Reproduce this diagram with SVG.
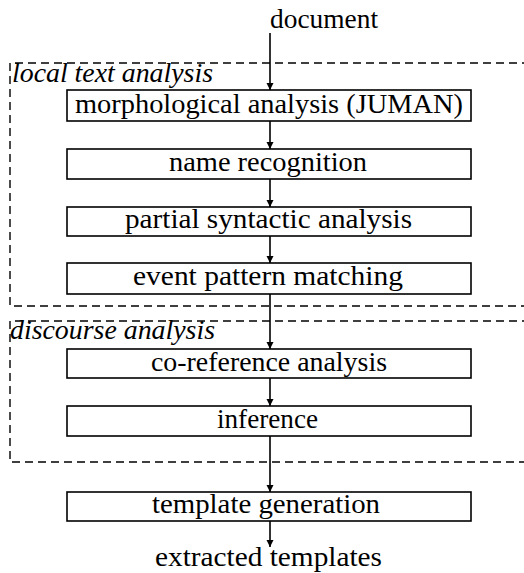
<svg xmlns="http://www.w3.org/2000/svg" width="524" height="573" viewBox="0 0 524 573">
  <defs>
    <marker id="arrow" viewBox="0 0 10 10" refX="10" refY="5" markerWidth="7" markerHeight="10" markerUnits="userSpaceOnUse" orient="auto">
      <path d="M0,0 L10,5 L0,10 z" fill="#000"/>
    </marker>
    <style>
      .box { fill: #fff; stroke: #000; stroke-width: 1.6; }
      .lbl { font-family: "Liberation Serif", "Times New Roman", serif; font-size: 28px; fill: #000; }
      .grp { font-family: "Liberation Serif", "Times New Roman", serif; font-size: 27px; font-style: italic; fill: #000; }
      .frame { fill: none; stroke: #000; stroke-width: 1.4; stroke-dasharray: 8 5; }
      .flow { stroke: #000; stroke-width: 1.6; fill: none; marker-end: url(#arrow); }
    </style>
  </defs>
  <rect width="524" height="573" fill="#fff"/>

  <!-- stage groupings -->
  <g id="local-text-analysis">
    <path class="frame" d="M530,63 H10 V306 H530"/>
    <text class="grp" x="12" y="82" textLength="201" lengthAdjust="spacingAndGlyphs">local text analysis</text>
  </g>
  <g id="discourse-analysis">
    <path class="frame" d="M530,321 H10 V462 H530"/>
    <text class="grp" x="10" y="339" textLength="205" lengthAdjust="spacingAndGlyphs">discourse analysis</text>
  </g>

  <!-- connectors -->
  <g id="connectors">
    <line class="flow" x1="270" y1="33" x2="270" y2="90"/>
    <line class="flow" x1="270" y1="121" x2="270" y2="149"/>
    <line class="flow" x1="270" y1="179" x2="270" y2="207"/>
    <line class="flow" x1="270" y1="236" x2="270" y2="263"/>
    <line class="flow" x1="270" y1="294" x2="270" y2="349"/>
    <line class="flow" x1="270" y1="378" x2="270" y2="406"/>
    <line class="flow" x1="270" y1="436" x2="270" y2="492"/>
    <line class="flow" x1="270" y1="521" x2="270" y2="547"/>
  </g>

  <!-- input / output -->
  <g id="document">
    <text class="lbl" x="270" y="28" textLength="108" lengthAdjust="spacingAndGlyphs">document</text>
  </g>
  <g id="extracted-templates">
    <text class="lbl" x="155" y="566" textLength="227" lengthAdjust="spacingAndGlyphs">extracted templates</text>
  </g>

  <!-- processing steps -->
  <g id="morphological-analysis">
    <rect class="box" x="67" y="90" width="404" height="31"/>
    <text class="lbl" x="75" y="113" textLength="388" lengthAdjust="spacingAndGlyphs">morphological analysis (JUMAN)</text>
  </g>
  <g id="name-recognition">
    <rect class="box" x="67" y="149" width="404" height="30"/>
    <text class="lbl" x="169" y="171" textLength="198" lengthAdjust="spacingAndGlyphs">name recognition</text>
  </g>
  <g id="partial-syntactic-analysis">
    <rect class="box" x="67" y="207" width="404" height="29"/>
    <text class="lbl" x="125" y="228" textLength="287" lengthAdjust="spacingAndGlyphs">partial syntactic analysis</text>
  </g>
  <g id="event-pattern-matching">
    <rect class="box" x="67" y="263" width="404" height="31"/>
    <text class="lbl" x="133" y="285" textLength="270" lengthAdjust="spacingAndGlyphs">event pattern matching</text>
  </g>
  <g id="co-reference-analysis">
    <rect class="box" x="67" y="349" width="404" height="29"/>
    <text class="lbl" x="151" y="371" textLength="236" lengthAdjust="spacingAndGlyphs">co-reference analysis</text>
  </g>
  <g id="inference">
    <rect class="box" x="67" y="406" width="404" height="30"/>
    <text class="lbl" x="217" y="428" textLength="101" lengthAdjust="spacingAndGlyphs">inference</text>
  </g>
  <g id="template-generation">
    <rect class="box" x="67" y="492" width="404" height="29"/>
    <text class="lbl" x="152" y="513" textLength="228" lengthAdjust="spacingAndGlyphs">template generation</text>
  </g>
</svg>
